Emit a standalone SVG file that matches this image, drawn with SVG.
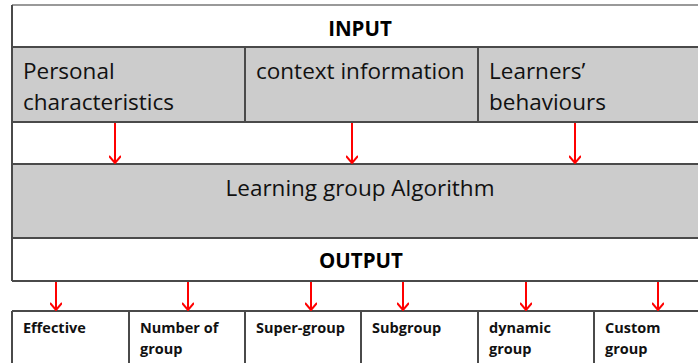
<svg xmlns="http://www.w3.org/2000/svg" width="698" height="363" viewBox="0 0 698 363">
<defs>
<style>
.ln{stroke:#4a4a4a;stroke-width:2;fill:none}
.gray{fill:#cccccc}
.t{font-family:"Open Sans","Liberation Sans",Arial,sans-serif;font-size:22.5px;fill:#111}
.h{font-family:"Open Sans","Liberation Sans",Arial,sans-serif;font-size:20.5px;font-weight:bold;fill:#000;text-anchor:middle}
.s{font-family:"Open Sans","Liberation Sans",Arial,sans-serif;font-size:14.5px;font-weight:bold;fill:#111}
.ar{stroke:#ff0000;stroke-width:2;fill:none}
</style>
<marker id="ah" viewBox="0 0 10 12" refX="9" refY="6" markerWidth="10" markerHeight="12" markerUnits="userSpaceOnUse" orient="auto">
<path d="M2,0 L9,6 L2,12" stroke="#ff0000" stroke-width="2" fill="none"/>
</marker>
</defs>
<rect width="698" height="363" fill="#ffffff"/>
<g id="input">
<rect x="12" y="5" width="690" height="42" fill="#fff"/>
<line x1="12" y1="5" x2="698" y2="5" stroke="#999" stroke-width="2"/>
<text class="h" x="360" y="36">INPUT</text>
</g>
<g id="personal">
<rect class="gray" x="12" y="47" width="233" height="75"/>
<text class="t" x="23" y="79">Personal</text>
<text class="t" x="23" y="110">characteristics</text>
</g>
<g id="context">
<rect class="gray" x="245" y="47" width="233" height="75"/>
<text class="t" x="256" y="79">context information</text>
</g>
<g id="behaviours">
<rect class="gray" x="478" y="47" width="222" height="75"/>
<text class="t" x="489" y="79">Learners’</text>
<text class="t" x="489" y="110">behaviours</text>
</g>
<g id="algorithm">
<rect class="gray" x="12" y="164" width="690" height="74"/>
<text class="t" x="360" y="196" text-anchor="middle">Learning group Algorithm</text>
</g>
<g id="output">
<text class="h" x="361" y="268">OUTPUT</text>
</g>
<g id="effective"><text class="s" x="23" y="333">Effective</text></g>
<g id="number"><text class="s" x="140" y="333">Number of</text><text class="s" x="140" y="354">group</text></g>
<g id="super"><text class="s" x="256" y="333">Super-group</text></g>
<g id="sub"><text class="s" x="372" y="333">Subgroup</text></g>
<g id="dynamic"><text class="s" x="489" y="333">dynamic</text><text class="s" x="489" y="354">group</text></g>
<g id="custom"><text class="s" x="605" y="333">Custom</text><text class="s" x="605" y="354">group</text></g>
<g id="frame">
<path class="ln" d="M12,5 V281 M12,47 H698 M12,122 H698 M12,164 H698 M12,238 H698 M12,281 H698 M245,47 V122 M478,47 V122"/>
<path class="ln" d="M12,311 H698 M12,311 V363 M129,311 V363 M245,311 V363 M361,311 V363 M478,311 V363 M594,311 V363"/>
</g>
<g id="connectors">
<line class="ar" x1="115" y1="123" x2="115" y2="163" marker-end="url(#ah)"/>
<line class="ar" x1="352" y1="123" x2="352" y2="163" marker-end="url(#ah)"/>
<line class="ar" x1="575" y1="123" x2="575" y2="163" marker-end="url(#ah)"/>
<line class="ar" x1="56" y1="282" x2="56" y2="310" marker-end="url(#ah)"/>
<line class="ar" x1="188" y1="282" x2="188" y2="310" marker-end="url(#ah)"/>
<line class="ar" x1="311" y1="282" x2="311" y2="310" marker-end="url(#ah)"/>
<line class="ar" x1="403" y1="282" x2="403" y2="310" marker-end="url(#ah)"/>
<line class="ar" x1="526" y1="282" x2="526" y2="310" marker-end="url(#ah)"/>
<line class="ar" x1="658" y1="282" x2="658" y2="310" marker-end="url(#ah)"/>
</g>
</svg>
